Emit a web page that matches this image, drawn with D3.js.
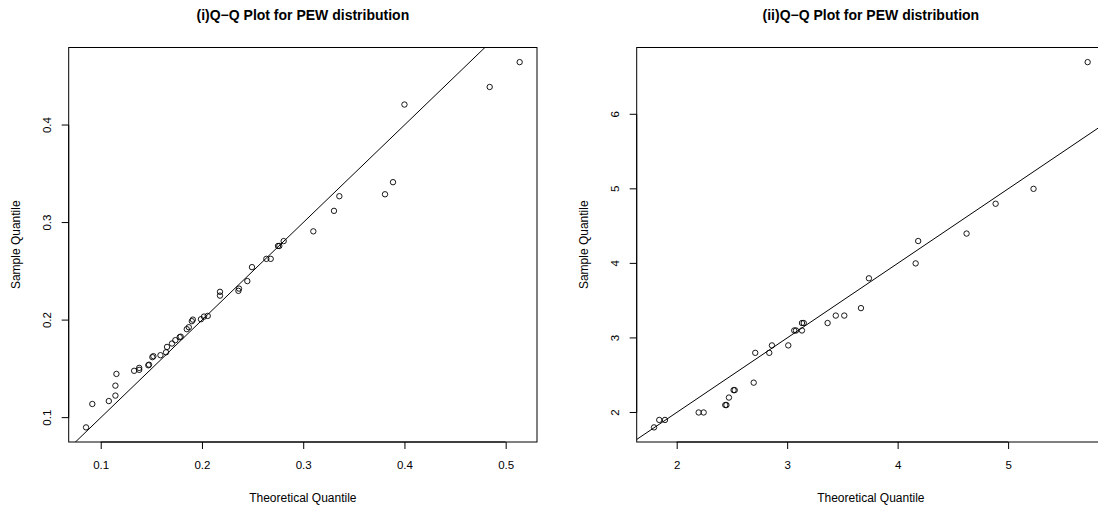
<!DOCTYPE html>
<html>
<head>
<meta charset="utf-8">
<script src="https://cdn.jsdelivr.net/npm/d3@7"></script>
<style>
  body { margin: 0; background: #fff; }
  svg { display: block; font-family: "Liberation Sans", Arial, sans-serif; }
</style>
</head>
<body>
<div id="chart-area"></div>
<script>
// data
const leftTheoretical = [0.0855, 0.0917, 0.108, 0.1145, 0.1145, 0.1155, 0.133, 0.138, 0.138, 0.147,
  0.1477, 0.151, 0.152, 0.159, 0.1645, 0.1655, 0.1704, 0.1737, 0.178, 0.179,
  0.185, 0.187, 0.190, 0.191, 0.199, 0.202, 0.2057, 0.2178, 0.2178, 0.236,
  0.2366, 0.2448, 0.2494, 0.2636, 0.2679, 0.2751, 0.2764, 0.2807, 0.31, 0.3304,
  0.3357, 0.3808, 0.3887, 0.400, 0.4842, 0.5138];
const leftSample = [0.090, 0.114, 0.117, 0.1226, 0.1328, 0.1448, 0.148, 0.149, 0.151, 0.1537,
  0.1543, 0.162, 0.163, 0.164, 0.167, 0.1725, 0.176, 0.1794, 0.1825, 0.183,
  0.1907, 0.1927, 0.1989, 0.2005, 0.2009, 0.2036, 0.2043, 0.2251, 0.229, 0.230,
  0.2323, 0.240, 0.2543, 0.2628, 0.2628, 0.276, 0.276, 0.281, 0.291, 0.312,
  0.327, 0.329, 0.3414, 0.421, 0.439, 0.4645];
const leftTicksX = [0.1, 0.2, 0.3, 0.4, 0.5];
const leftTicksY = [0.1, 0.2, 0.3, 0.4];

const rightTheoretical = [1.795, 1.842, 1.894, 2.199, 2.244, 2.44, 2.45, 2.473, 2.515, 2.525,
  2.697, 2.711, 2.838, 2.862, 3.01, 3.064, 3.08, 3.134, 3.134, 3.15,
  3.366, 3.44, 3.517, 3.668, 3.74, 4.163, 4.186, 4.624, 4.887, 5.23, 5.72];
const rightSample = [1.8, 1.9, 1.9, 2.0, 2.0, 2.1, 2.1, 2.2, 2.3, 2.3,
  2.4, 2.8, 2.8, 2.9, 2.9, 3.1, 3.1, 3.1, 3.2, 3.2,
  3.2, 3.3, 3.3, 3.4, 3.8, 4.0, 4.3, 4.4, 4.8, 5.0, 6.7];
const rightTicksX = [2, 3, 4, 5];
const rightTicksY = [2, 3, 4, 5, 6];

const widthSvg = 1098;
const heightSvg = 511;

const svg = d3.select('#chart-area')
  .append('svg')
    .attr('width', widthSvg)
    .attr('height', heightSvg);

// R style: 4% padding around the data range
const padRange = (values) => {
  const [lo, hi] = d3.extent(values);
  const pad = (hi - lo) * 0.04;
  return [lo - pad, hi + pad];
};

const drawPanel = (opts) => {
  const { id, left, right, top, bottom, xs, ys, ticksX, ticksY, title } = opts;

  const scaleX = d3.scaleLinear().domain(padRange(xs)).range([left, right]);
  const scaleY = d3.scaleLinear().domain(padRange(ys)).range([bottom, top]);

  const g = svg.append('g');

  svg.append('clipPath')
    .attr('id', `clip-${id}`)
    .append('rect')
      .attr('x', left)
      .attr('y', top)
      .attr('width', right - left)
      .attr('height', bottom - top);

  // reference line y = x
  const [x0, x1] = scaleX.domain();
  g.append('line')
    .attr('clip-path', `url(#clip-${id})`)
    .attr('x1', scaleX(x0))
    .attr('y1', scaleY(x0))
    .attr('x2', scaleX(x1))
    .attr('y2', scaleY(x1))
    .attr('stroke', '#000')
    .attr('stroke-width', 1);

  g.selectAll('circle')
    .data(xs.map((x, i) => ({ x, y: ys[i] })))
    .enter()
    .append('circle')
      .attr('cx', d => scaleX(d.x))
      .attr('cy', d => scaleY(d.y))
      .attr('r', 2.7)
      .attr('fill', 'none')
      .attr('stroke', '#000')
      .attr('stroke-width', 0.9);

  // box
  g.append('rect')
    .attr('x', left)
    .attr('y', top)
    .attr('width', right - left)
    .attr('height', bottom - top)
    .attr('fill', 'none')
    .attr('stroke', '#000')
    .attr('stroke-width', 1);

  const axisX = d3.axisBottom(scaleX)
    .tickValues(ticksX)
    .tickSize(7)
    .tickPadding(12)
    .tickFormat(d3.format('~g'));

  const axisY = d3.axisLeft(scaleY)
    .tickValues(ticksY)
    .tickSize(7)
    .tickFormat(d3.format('~g'));

  const gx = g.append('g')
    .attr('transform', `translate(0, ${bottom})`)
    .call(axisX);
  gx.select('.domain')
    .attr('d', `M${scaleX(ticksX[0])},0H${scaleX(ticksX[ticksX.length - 1])}`);
  gx.selectAll('text')
    .attr('font-size', '11.5px')
    .attr('font-family', '"Liberation Sans", Arial, sans-serif')
    .attr('fill', '#000');

  const gy = g.append('g')
    .attr('transform', `translate(${left}, 0)`)
    .call(axisY);
  gy.select('.domain')
    .attr('d', `M0,${scaleY(ticksY[0])}V${scaleY(ticksY[ticksY.length - 1])}`);
  gy.selectAll('.tick').attr('transform', null);
  gy.selectAll('.tick line')
    .attr('y1', d => scaleY(d))
    .attr('y2', d => scaleY(d));
  gy.selectAll('text')
    .attr('font-size', '11.5px')
    .attr('font-family', '"Liberation Sans", Arial, sans-serif')
    .attr('fill', '#000')
    .attr('text-anchor', 'middle')
    .attr('x', 0)
    .attr('dy', null)
    .attr('dominant-baseline', 'middle')
    .attr('transform', d => `translate(-21, ${scaleY(d)}) rotate(-90)`);

  svg.append('text')
    .text(title)
      .attr('x', (left + right) / 2)
      .attr('y', 20)
      .attr('text-anchor', 'middle')
      .attr('font-weight', 'bold')
      .attr('font-size', '14px');

  svg.append('text')
    .text('Theoretical Quantile')
      .attr('x', (left + right) / 2)
      .attr('y', 502)
      .attr('text-anchor', 'middle')
      .attr('font-size', '12px');

  svg.append('text')
    .text('Sample Quantile')
      .attr('text-anchor', 'middle')
      .attr('font-size', '12px')
      .attr('transform', `translate(${left - 49}, ${(top + bottom) / 2}) rotate(-90)`);
};

drawPanel({
  id: 'left',
  left: 68.7, right: 537, top: 47.5, bottom: 442,
  xs: leftTheoretical, ys: leftSample,
  ticksX: leftTicksX, ticksY: leftTicksY,
  title: '(i)Q\u2212Q Plot for PEW distribution'
});

drawPanel({
  id: 'right',
  left: 636.7, right: 1105, top: 47.5, bottom: 442,
  xs: rightTheoretical, ys: rightSample,
  ticksX: rightTicksX, ticksY: rightTicksY,
  title: '(ii)Q\u2212Q Plot for PEW distribution'
});
</script>
</body>
</html>
